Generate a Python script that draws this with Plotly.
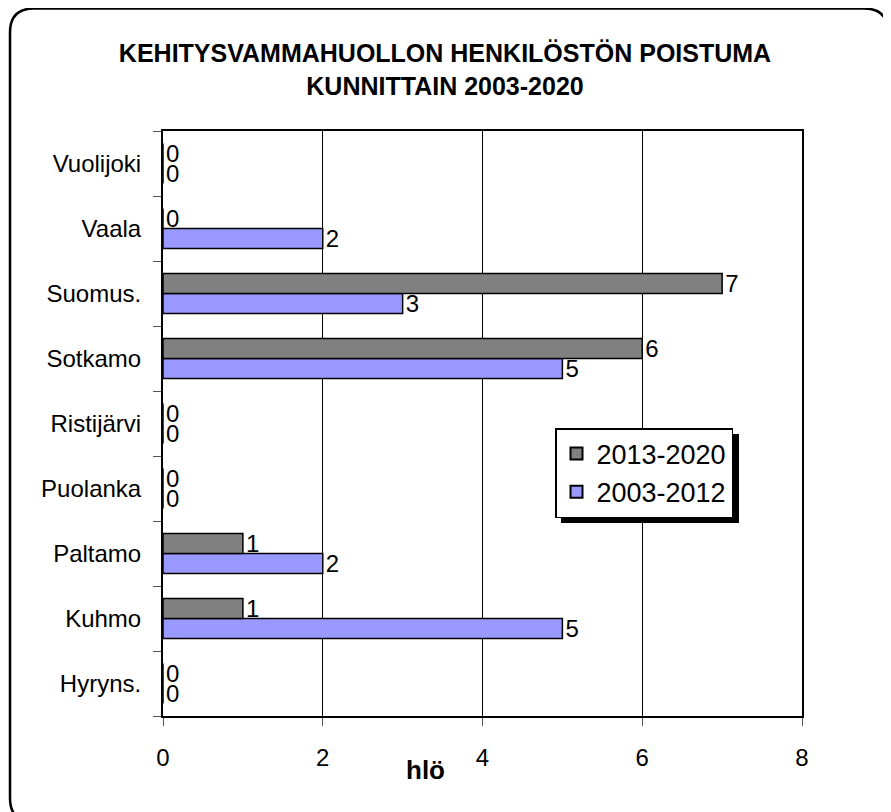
import plotly.graph_objects as go

categories = ["Hyryns.", "Kuhmo", "Paltamo", "Puolanka", "Ristijärvi", "Sotkamo", "Suomus.", "Vaala", "Vuolijoki"]
series_2003_2012 = [0, 5, 2, 0, 0, 5, 3, 2, 0]
series_2013_2020 = [0, 1, 1, 0, 0, 6, 7, 0, 0]
x_ticks = [0, 2, 4, 6, 8]

# page offset (browser body margin)
OFF = 8
W, H = 883, 804
# plot area in page pixels
PL, PR, PT, PB = 163, 802, 131, 716
L, R, T, B = PL - OFF, PR - OFF, PT - OFF, PB - OFF
pw, ph = R - L, B - T

def px(x):
    return (x - OFF - L) / pw

def py(y):
    return (B - (y - OFF)) / ph

FONT = "Liberation Sans, Arial, sans-serif"
LBL = dict(size=24, color="#000000", family=FONT)

fig = go.Figure()
fig.add_trace(go.Bar(
    y=categories, x=series_2003_2012, orientation="h", name="2003-2012",
    marker=dict(color="#9999FF", line=dict(color="#000000", width=1.5)),
    text=[str(v) for v in series_2003_2012], textposition="outside",
    textfont=LBL, outsidetextfont=LBL, constraintext="none", cliponaxis=False,
))
fig.add_trace(go.Bar(
    y=categories, x=series_2013_2020, orientation="h", name="2013-2020",
    marker=dict(color="#808080", line=dict(color="#000000", width=1.5)),
    text=[str(v) for v in series_2013_2020], textposition="outside",
    textfont=LBL, outsidetextfont=LBL, constraintext="none", cliponaxis=False,
))

# rounded outer border (page coords)
x0, y0, x1, y1, r = 10, 8.5, 888, 822, 24
path = (f"M {px(x0+r)},{py(y0)} L {px(x1-r)},{py(y0)} "
        f"Q {px(x1)},{py(y0)} {px(x1)},{py(y0+r)} "
        f"L {px(x1)},{py(y1-r)} Q {px(x1)},{py(y1)} {px(x1-r)},{py(y1)} "
        f"L {px(x0+r)},{py(y1)} Q {px(x0)},{py(y1)} {px(x0)},{py(y1-r)} "
        f"L {px(x0)},{py(y0+r)} Q {px(x0)},{py(y0)} {px(x0+r)},{py(y0)} Z")

shapes = [
    dict(type="path", xref="paper", yref="paper", path=path,
         line=dict(color="#000000", width=2.5), layer="below"),
    # legend shadow
    dict(type="rect", xref="paper", yref="paper",
         x0=px(561), x1=px(739), y0=py(434), y1=py(523),
         fillcolor="#000000", line=dict(width=0), layer="above"),
]

fig.update_layout(
    width=W, height=H,
    margin=dict(l=L, r=W - R, t=T, b=H - B),
    paper_bgcolor="#FFFFFF", plot_bgcolor="#FFFFFF",
    barmode="group", bargap=0.385, bargroupgap=0,
    font=dict(family=FONT, color="#000000"),
    title=dict(text="<b>KEHITYSVAMMAHUOLLON HENKILÖSTÖN POISTUMA<br>KUNNITTAIN 2003-2020</b>",
               x=(445 - OFF) / W, xanchor="center", y=1 - (62 - OFF) / H, yanchor="middle",
               font=dict(size=25, family=FONT, color="#000000")),
    showlegend=True,
    legend=dict(x=px(555), y=py(428), xanchor="left", yanchor="top",
                traceorder="reversed", bgcolor="#FFFFFF",
                bordercolor="#000000", borderwidth=1.5,
                font=dict(size=27, family=FONT, color="#000000"),
                itemsizing="constant"),
    xaxis=dict(range=[0, 8], tickvals=x_ticks, ticktext=[str(v) for v in x_ticks],
               showgrid=True, gridcolor="#000000", gridwidth=1,
               showline=True, linecolor="#000000", linewidth=2, mirror=True,
               ticks="outside", ticklen=8, tickcolor="#555555",
               ticklabelstandoff=11,
               tickfont=dict(size=24, family=FONT, color="#000000"),
               zeroline=False, fixedrange=True),
    yaxis=dict(categoryorder="array", categoryarray=categories, range=[-0.5, 8.5],
               tickson="boundaries", ticks="outside", ticklen=8, tickcolor="#555555",
               showline=True, linecolor="#000000", linewidth=2, mirror=True,
               showgrid=False, ticklabelstandoff=15,
               tickfont=dict(size=24, family=FONT, color="#000000"),
               fixedrange=True),
    shapes=shapes,
    annotations=[dict(text="<b>hlö</b>", xref="paper", yref="paper",
                      x=px(425), y=py(770), xanchor="center", yanchor="middle",
                      showarrow=False, font=dict(size=26, family=FONT, color="#000000"))],
)

fig.write_html("out.html")
